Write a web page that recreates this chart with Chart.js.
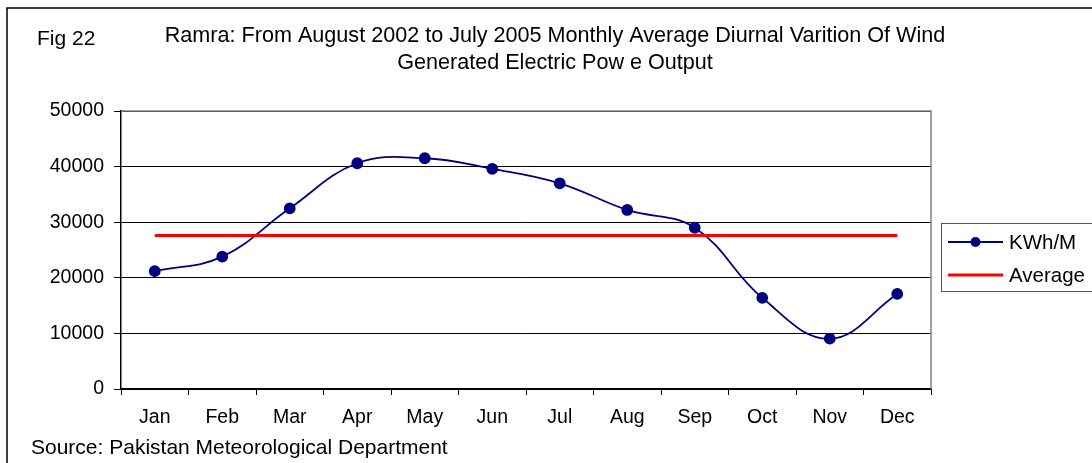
<!DOCTYPE html>
<html>
<head>
<meta charset="utf-8">
<script src="https://cdn.jsdelivr.net/npm/chart.js@4.4.1/dist/chart.umd.min.js"></script>
<style>
  body { margin: 0; background: #fff; }
  #wrap { width: 1092px; height: 463px; position: relative; }
</style>
</head>
<body>
<div id="wrap"><canvas id="canvas"></canvas></div>
<script>
// months on the x axis
const months = ['Jan','Feb','Mar','Apr','May','Jun','Jul','Aug','Sep','Oct','Nov','Dec'];
// monthly average output
const kwhValues = [21200, 23800, 32500, 40600, 41500, 39600, 37000, 32200, 29000, 16400, 9050, 17100];
// the flat average line
const averageValues = [27600, 27600, 27600, 27600, 27600, 27600, 27600, 27600, 27600, 27600, 27600, 27600];
const yTicks = [0, 10000, 20000, 30000, 40000, 50000];

const titleLines = ['Ramra: From August 2002 to July 2005 Monthly Average Diurnal Varition Of Wind',
                    'Generated Electric Pow e Output'];
const figLabel = 'Fig 22';
const sourceText = 'Source: Pakistan Meteorological Department';

const FONT = '"Liberation Sans", Arial, sans-serif';

// draws the frame, the texts and the legend box
const decorations = {
    id: 'decorations',
    afterDraw(chart) {
        const ctx = chart.ctx;
        const area = chart.chartArea;
        ctx.save();

        // outer border (only top and left are visible)
        ctx.strokeStyle = '#000';
        ctx.lineWidth = 1.5;
        ctx.beginPath();
        ctx.moveTo(7, 463);
        ctx.lineTo(7, 8);
        ctx.lineTo(1092, 8);
        ctx.stroke();

        // plot area frame, top and right
        ctx.strokeStyle = '#808080';
        ctx.lineWidth = 1.5;
        ctx.beginPath();
        ctx.moveTo(area.left, area.top);
        ctx.lineTo(area.right, area.top);
        ctx.lineTo(area.right, area.bottom);
        ctx.stroke();

        // texts
        ctx.fillStyle = '#000';
        ctx.textBaseline = 'middle';
        ctx.font = '21px ' + FONT;
        ctx.textAlign = 'left';
        ctx.fillText(figLabel, 37, 39);
        ctx.textAlign = 'center';
        ctx.font = '21.6px ' + FONT;
        ctx.fillText(titleLines[0], 555, 36);
        ctx.fillText(titleLines[1], 555, 63);
        ctx.textAlign = 'left';
        ctx.font = '21px ' + FONT;
        ctx.fillText(sourceText, 31, 448);

        // legend
        ctx.fillStyle = '#fff';
        ctx.fillRect(941, 223, 200, 68);
        ctx.strokeStyle = '#555';
        ctx.lineWidth = 1;
        ctx.strokeRect(941.5, 223.5, 200, 68);
        const rows = [242, 275];
        chart.data.datasets.forEach((ds, i) => {
            const y = rows[i];
            ctx.strokeStyle = ds.borderColor;
            ctx.lineWidth = ds.borderWidth;
            ctx.beginPath();
            ctx.moveTo(948, y);
            ctx.lineTo(1003, y);
            ctx.stroke();
            if (ds.pointRadius > 0) {
                ctx.fillStyle = ds.backgroundColor;
                ctx.beginPath();
                ctx.arc(975.5, y, ds.pointRadius, 0, Math.PI * 2);
                ctx.fill();
            }
            ctx.fillStyle = '#000';
            ctx.font = '20.5px ' + FONT;
            ctx.textAlign = 'left';
            ctx.fillText(ds.label, 1009, y + 1);
        });
        ctx.restore();
    }
};

const ctx = document.getElementById('canvas').getContext('2d');
const myChart = new Chart(ctx, {
    type: 'line',
    data: {
        labels: months,
        datasets: [{
            label: 'KWh/M',
            data: kwhValues,
            borderColor: '#000080',
            backgroundColor: '#000080',
            borderWidth: 1.8,
            pointRadius: 5,
            pointHoverRadius: 5,
            tension: 0.4,
            order: 2
        }, {
            label: 'Average',
            data: averageValues,
            borderColor: '#FF0000',
            backgroundColor: '#FF0000',
            borderWidth: 3,
            pointRadius: 0,
            tension: 0,
            order: 1
        }]
    },
    options: {
        responsive: true,
        maintainAspectRatio: false,
        animation: false,
        devicePixelRatio: 1,
        layout: { padding: { left: 0, top: 111, right: 161, bottom: 34 } },
        plugins: {
            legend: { display: false },
            title: { display: false },
            tooltip: { enabled: false }
        },
        scales: {
            x: {
                offset: true,
                afterFit: (scale) => { scale.height = 40; },
                grid: {
                    offset: true,
                    drawOnChartArea: false,
                    drawTicks: true,
                    tickLength: 6,
                    color: '#000'
                },
                border: { display: true, color: '#000', width: 1.5 },
                ticks: {
                    color: '#000',
                    padding: 11,
                    maxRotation: 0,
                    autoSkip: false,
                    font: { family: FONT, size: 19.5 }
                }
            },
            y: {
                min: yTicks[0],
                max: yTicks[yTicks.length - 1],
                afterFit: (scale) => { scale.width = 121; },
                afterBuildTicks: (scale) => { scale.ticks = yTicks.map(v => ({ value: v })); },
                grid: {
                    color: '#000',
                    lineWidth: 1,
                    tickLength: 7
                },
                border: { display: true, color: '#000', width: 1.5 },
                ticks: {
                    color: '#000',
                    padding: 10,
                    callback: (value) => String(value),
                    font: { family: FONT, size: 19.5 }
                }
            }
        }
    },
    plugins: [decorations]
});
</script>
</body>
</html>
